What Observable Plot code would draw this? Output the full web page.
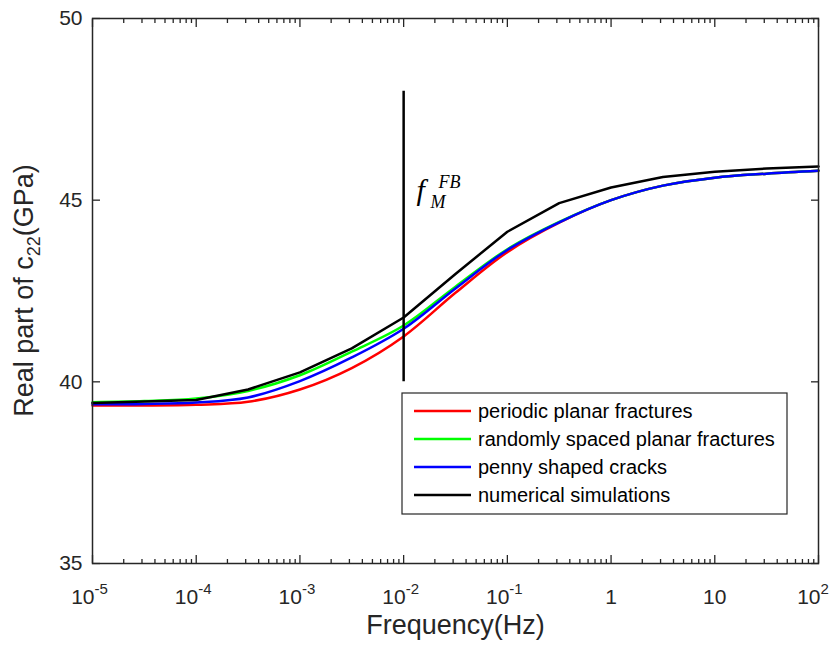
<!DOCTYPE html>
<html><head><meta charset="utf-8">
<script src="https://cdn.jsdelivr.net/npm/d3@7"></script>
<script src="https://cdn.jsdelivr.net/npm/@observablehq/plot@0.6"></script>
<style>body{margin:0;background:#fff;} #chart{width:836px;height:651px;}</style>
</head><body><div id="chart"></div>
<script>
// Frequencies (Hz) at which values are read
const freq = [1e-5, 3.16e-5, 1e-4, 3.16e-4, 1e-3, 3.16e-3, 1e-2, 3.16e-2, 1e-1, 3.16e-1, 1, 3.16, 10, 31.6, 100];
const periodic = [39.35, 39.35, 39.37, 39.45, 39.79, 40.38, 41.25, 42.45, 43.57, 44.38, 45.00, 45.40, 45.62, 45.73, 45.81];
const randomly = [39.44, 39.47, 39.54, 39.75, 40.18, 40.83, 41.55, 42.62, 43.65, 44.40, 45.00, 45.40, 45.62, 45.73, 45.81];
const penny    = [39.38, 39.39, 39.43, 39.57, 40.02, 40.67, 41.46, 42.57, 43.63, 44.39, 45.00, 45.40, 45.62, 45.73, 45.81];
// numerical simulations (piecewise linear)
const numFreq = [1e-5, 1e-4, 3.16e-4, 1e-3, 3.16e-3, 1e-2, 3.16e-2, 1e-1, 3.16e-1, 1, 3.16, 10, 31.6, 100];
const numerical = [39.42, 39.50, 39.79, 40.26, 40.92, 41.77, 42.97, 44.13, 44.92, 45.35, 45.64, 45.78, 45.87, 45.93];

const seriesNames = ["periodic planar fractures", "randomly spaced planar fractures", "penny shaped cracks", "numerical simulations"];
const seriesColors = ["#ff0000", "#00ff00", "#0000ff", "#000000"];

const xTicks = [1e-5, 1e-4, 1e-3, 1e-2, 1e-1, 1, 10, 100];
const xTickBase = ["10", "10", "10", "10", "10", "1", "10", "10"];
const xTickExp = ["-5", "-4", "-3", "-2", "-1", "", "", "2"];
const yTicks = [35, 40, 45, 50];
const xDomain = [1e-5, 100];
const yDomain = [35, 50];

// marker line f_M^FB
const markerFreq = 0.01;
const markerRange = [40, 48];
const annotX = 0.0133, annotY = 45;

const minorX = [];
for (let e = -5; e < 2; e++) for (let m = 2; m <= 9; m++) minorX.push(m * Math.pow(10, e));

const toRows = (fs, vs) => fs.map((f, i) => ({f, v: vs[i]}));
const exp = xTicks.map((d, i) => ({d, b: xTickBase[i], e: xTickExp[i]}));

const axisColor = "#262626";
const chart = Plot.plot({
  width: 836, height: 651,
  marginLeft: 92, marginRight: 18, marginTop: 18, marginBottom: 88,
  style: {fontFamily: "'Liberation Sans', Arial, sans-serif", fontSize: "20px", background: "#fff", color: axisColor},
  x: {type: "log", domain: xDomain},
  y: {domain: yDomain},
  marks: [
    Plot.line(toRows(freq, periodic), {x: "f", y: "v", stroke: seriesColors[0], strokeWidth: 2.5, curve: "catmull-rom"}),
    Plot.line(toRows(freq, randomly), {x: "f", y: "v", stroke: seriesColors[1], strokeWidth: 2.5, curve: "catmull-rom"}),
    Plot.line(toRows(freq, penny), {x: "f", y: "v", stroke: seriesColors[2], strokeWidth: 2.5, curve: "catmull-rom"}),
    Plot.line(toRows(numFreq, numerical), {x: "f", y: "v", stroke: seriesColors[3], strokeWidth: 2.5}),
    Plot.ruleX([markerFreq], {y1: markerRange[0], y2: markerRange[1], stroke: "#000", strokeWidth: 2.5}),
    Plot.axisX({ticks: xTicks, anchor: "bottom", tickSize: -8, tickFormat: () => "", label: null, stroke: axisColor, strokeWidth: 1.3}),
    Plot.axisX({ticks: xTicks, anchor: "top", tickSize: -8, tickFormat: () => "", label: null, stroke: axisColor, strokeWidth: 1.3}),
    Plot.axisX({ticks: minorX, anchor: "bottom", tickSize: -4, tickFormat: () => "", label: null, stroke: axisColor, strokeWidth: 1.3}),
    Plot.axisX({ticks: minorX, anchor: "top", tickSize: -4, tickFormat: () => "", label: null, stroke: axisColor, strokeWidth: 1.3}),
    Plot.axisY({ticks: yTicks, anchor: "left", tickSize: -8, tickFormat: () => "", label: null, stroke: axisColor, strokeWidth: 1.3}),
    Plot.axisY({ticks: yTicks, anchor: "right", tickSize: -8, tickFormat: () => "", label: null, stroke: axisColor, strokeWidth: 1.3}),
    Plot.axisY({ticks: yTicks, anchor: "left", tickSize: 0, tickPadding: 10, label: null, fontSize: 21, fill: axisColor}),
    Plot.frame({stroke: axisColor, strokeWidth: 1.5}),
    // x tick labels with superscripts
    Plot.text(exp.filter(t => t.e), {x: "d", text: "b", frameAnchor: "bottom", dy: 40, dx: 2, lineAnchor: "bottom", textAnchor: "end", fontSize: 21, fill: axisColor}),
    Plot.text(exp.filter(t => t.e), {x: "d", text: "e", frameAnchor: "bottom", dy: 30, dx: 2, lineAnchor: "bottom", textAnchor: "start", fontSize: 15, fill: axisColor}),
    Plot.text(exp.filter(t => !t.e), {x: "d", text: "b", frameAnchor: "bottom", dy: 40, lineAnchor: "bottom", textAnchor: "middle", fontSize: 21, fill: axisColor}),
    Plot.text(["Frequency(Hz)"], {frameAnchor: "bottom", dy: 70, lineAnchor: "bottom", fontSize: 27, fill: axisColor}),
    // annotation f_M^FB
    Plot.text([{x: annotX, y: annotY}], {x: "x", y: "y", text: () => "f", textAnchor: "start", lineAnchor: "bottom", fontFamily: "'Liberation Serif', 'Times New Roman', serif", fontStyle: "italic", fontSize: 30, fill: "#000"}),
    Plot.text([{x: annotX, y: annotY}], {x: "x", y: "y", text: () => "FB", dx: 22, dy: -12, textAnchor: "start", lineAnchor: "bottom", fontFamily: "'Liberation Serif', 'Times New Roman', serif", fontStyle: "italic", fontSize: 18, fill: "#000"}),
    Plot.text([{x: annotX, y: annotY}], {x: "x", y: "y", text: () => "M", dx: 14, dy: 8, textAnchor: "start", lineAnchor: "bottom", fontFamily: "'Liberation Serif', 'Times New Roman', serif", fontStyle: "italic", fontSize: 18, fill: "#000"})
  ]
});
document.getElementById("chart").appendChild(chart);

const svg = d3.select(chart);
// y axis label with subscript
const yl = svg.append("text")
  .attr("transform", "translate(33,290.5) rotate(-90)")
  .attr("text-anchor", "middle")
  .attr("fill", axisColor)
  .style("font-size", "27px");
yl.append("tspan").text("Real part of c");
yl.append("tspan").attr("dy", 7).style("font-size", "18px").text("22");
yl.append("tspan").attr("dy", -7).text("(GPa)");

// legend box
const lg = svg.append("g").attr("text-anchor", "start");
lg.append("rect").attr("x", 402).attr("y", 393).attr("width", 385).attr("height", 121)
  .attr("fill", "#fff").attr("stroke", axisColor).attr("stroke-width", 1.2);
seriesNames.forEach((name, i) => {
  const y = 411 + i * 28;
  lg.append("line").attr("x1", 414).attr("x2", 471).attr("y1", y).attr("y2", y)
    .attr("stroke", seriesColors[i]).attr("stroke-width", 2.5);
  lg.append("text").attr("x", 478).attr("y", y).attr("dy", "0.35em")
    .attr("text-anchor", "start")
    .attr("fill", "#000").style("font-size", "20px").text(name);
});
</script>
</body></html>
